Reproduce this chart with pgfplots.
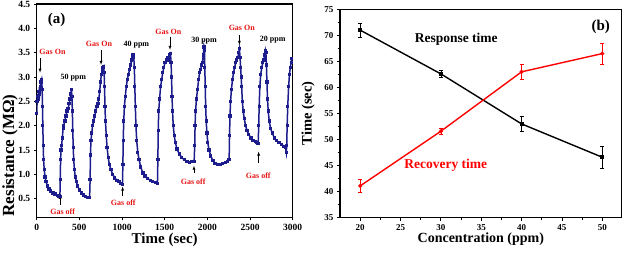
\documentclass[border=0pt]{standalone}
\usepackage{pgfplots}
\pgfplotsset{compat=1.18}
\usepackage{fontspec}
\setmainfont{Liberation Serif}
\definecolor{navy}{RGB}{28,28,140}
\definecolor{gred}{RGB}{230,20,20}
\begin{document}
\begin{tikzpicture}[font=\bfseries]
\pgfplotsset{
  every axis/.style={
    scale only axis, anchor=south west,
    axis line style={line width=1.1pt},
    tick align=outside, xtick pos=bottom, ytick pos=left,
    major tick length=3pt, minor tick length=2pt,
    every tick/.style={black, line width=0.9pt},
    tick label style={font=\bfseries\fontsize{9.5}{10}\selectfont},
    /pgf/number format/assume math mode=true,
  }
}
% ---------------- panel (a)
\begin{axis}[
  at={(36.7pt,36.7pt)}, width=256pt, height=213.3pt,
  xmin=0, xmax=3000, ymin=0.12, ymax=4.5,
  xtick={0,500,...,3000}, ytick={0.5,1,...,4.5},
  /pgf/number format/1000 sep={},
  yticklabel style={/pgf/number format/.cd, fixed, fixed zerofill, precision=1},
  xlabel={Time (sec)}, ylabel={Resistance (MΩ)},
  xlabel style={font=\bfseries\fontsize{15}{17}\selectfont, yshift=4pt},
  ylabel style={font=\bfseries\fontsize{17}{19}\selectfont, at={(axis description cs:-0.104,0.29)}, anchor=center},
]
\addplot[navy, line width=1.5pt, mark=square*, mark size=0.9pt] coordinates {
(0,2.25)(5,2.5)(12,2.6)(20,2.55)(28,2.7)(35,2.65)(42,2.8)(50,2.9)(58,2.95)(64,2.75)(68,2.4)(72,2.0)(76,1.6)(81,1.3)(88,1.1)(98,0.95)(110,0.85)(125,0.76)(145,0.7)(165,0.66)(190,0.62)(215,0.6)(240,0.57)(260,0.56)(272,0.55)
(276,0.9)(280,1.3)(285,1.5)(292,1.6)(300,1.75)(310,1.95)(318,2.0)(330,2.1)(342,2.2)(355,2.3)(368,2.35)(380,2.45)(392,2.55)(400,2.65)(407,2.75)(413,2.6)(418,2.3)(423,1.9)(428,1.55)(434,1.3)(442,1.1)(452,0.95)(465,0.85)(480,0.76)(500,0.68)(525,0.62)(550,0.58)(575,0.55)(600,0.53)(620,0.52)
(626,0.9)(630,1.4)(636,1.7)(645,1.85)(655,2.0)(668,2.1)(680,2.2)(692,2.3)(705,2.4)(718,2.45)(728,2.55)(738,2.7)(748,2.9)(758,3.05)(768,3.15)(778,3.2)(785,3.22)(790,3.1)(795,2.8)(800,2.4)(806,2.1)(815,1.8)(825,1.55)(838,1.35)(852,1.2)(870,1.1)(890,1.0)(915,0.93)(940,0.88)(965,0.85)(985,0.82)(1005,0.8)
(1010,1.2)(1014,1.7)(1020,2.1)(1028,2.4)(1038,2.6)(1050,2.8)(1062,2.95)(1075,3.05)(1088,3.15)(1100,3.25)(1112,3.35)(1122,3.42)(1130,3.45)(1138,3.4)(1144,3.2)(1150,2.8)(1156,2.4)(1163,2.0)(1172,1.7)(1185,1.45)(1200,1.3)(1220,1.15)(1245,1.03)(1270,0.97)(1300,0.92)(1330,0.88)(1360,0.85)(1390,0.83)(1415,0.82)
(1420,1.3)(1424,1.9)(1430,2.3)(1440,2.55)(1452,2.8)(1465,2.95)(1478,3.1)(1490,3.2)(1505,3.3)(1520,3.35)(1535,3.4)(1548,3.35)(1558,3.45)(1568,3.48)(1575,3.3)(1580,3.0)(1586,2.6)(1592,2.3)(1600,2.0)(1612,1.8)(1625,1.65)(1645,1.52)(1670,1.42)(1700,1.35)(1730,1.3)(1760,1.27)(1790,1.25)(1820,1.26)(1845,1.27)
(1852,1.6)(1856,2.0)(1862,2.3)(1872,2.55)(1885,2.75)(1898,2.95)(1910,3.1)(1922,3.15)(1932,3.25)(1942,3.3)(1952,3.45)(1960,3.62)(1966,3.55)(1970,3.2)(1975,2.8)(1980,2.4)(1986,2.1)(1995,1.85)(2005,1.65)(2020,1.5)(2040,1.38)(2065,1.28)(2090,1.23)(2120,1.21)(2150,1.2)(2180,1.22)(2210,1.24)(2240,1.27)(2255,1.3)
(2260,1.8)(2265,2.2)(2272,2.5)(2282,2.75)(2295,2.95)(2308,3.1)(2320,3.2)(2332,3.3)(2345,3.35)(2358,3.4)(2368,3.5)(2376,3.58)(2383,3.4)(2390,3.2)(2396,3.0)(2402,2.8)(2410,2.5)(2420,2.3)(2432,2.15)(2448,2.0)(2465,1.9)(2485,1.82)(2510,1.75)(2535,1.7)(2560,1.67)(2580,1.65)(2595,1.63)
(2602,2.0)(2607,2.4)(2615,2.8)(2625,3.05)(2638,3.2)(2650,3.3)(2662,3.35)(2672,3.45)(2680,3.55)(2686,3.5)(2692,3.25)(2698,2.9)(2705,2.55)(2713,2.3)(2725,2.1)(2740,1.95)(2760,1.85)(2785,1.75)(2810,1.7)(2840,1.65)(2870,1.62)(2895,1.58)(2915,1.56)(2925,1.45)
(2930,1.6)(2935,2.0)(2942,2.4)(2952,2.8)(2962,3.05)(2972,3.2)(2982,3.3)(2990,3.38)
};
\node[font=\bfseries\fontsize{15}{17}\selectfont] at (axis cs:234,4.17) {(a)};
\begin{scope}[every node/.style={font=\bfseries\fontsize{8}{9}\selectfont}]
\node[gred] at (axis cs:185,3.52) {Gas On};
\node[gred] at (axis cs:730,3.69) {Gas On};
\node[gred] at (axis cs:1543,3.93) {Gas On};
\node[gred] at (axis cs:2403,4.01) {Gas On};
\node at (axis cs:429,2.98) {50 ppm};
\node at (axis cs:1168,3.67) {40 ppm};
\node at (axis cs:1961,3.75) {30 ppm};
\node at (axis cs:2766,3.76) {20 ppm};
\node[gred] at (axis cs:304,0.24) {Gas off};
\node[gred] at (axis cs:1015,0.42) {Gas off};
\node[gred] at (axis cs:1834,0.855) {Gas off};
\node[gred] at (axis cs:2597,0.97) {Gas off};
\end{scope}
\begin{scope}[-latex, line width=0.4pt]
\draw (axis cs:39,3.39) -- (axis cs:39,3.09);
\draw (axis cs:754,3.56) -- (axis cs:754,3.25);
\draw (axis cs:1562,3.83) -- (axis cs:1562,3.56);
\draw (axis cs:2375,3.86) -- (axis cs:2375,3.66);
\draw (axis cs:273,0.38) -- (axis cs:273,0.58);
\draw (axis cs:1007,0.55) -- (axis cs:1007,0.75);
\draw (axis cs:1843,1.03) -- (axis cs:1843,1.18);
\draw (axis cs:2601,1.23) -- (axis cs:2601,1.47);
\end{scope}
\end{axis}
% ---------------- panel (b)
\begin{axis}[
  at={(340pt,36.3pt)}, width=281.7pt, height=208.4pt,
  xmin=17.5, xmax=52.4, ymin=35, ymax=75,
  xtick={20,25,...,50}, ytick={35,40,...,75},
  minor tick num=1,
  tick label style={font=\bfseries\fontsize{9}{10}\selectfont},
  xlabel={Concentration (ppm)}, ylabel={Time (sec)},
  xlabel style={font=\bfseries\fontsize{14}{16}\selectfont, yshift=4pt},
  ylabel style={font=\bfseries\fontsize{14.5}{16}\selectfont, yshift=3pt},
]
\addplot[black, line width=1.4pt, mark=square*, mark size=1.2pt,
  error bars/.cd, y dir=both, y explicit, error bar style={line width=0.6pt}, error mark options={rotate=90, mark size=2pt, line width=0.6pt}]
  coordinates {(20,71.0) +- (0,1.4) (30,62.6) +- (0,0.7) (40,53.0) +- (0,1.4) (50,46.6) +- (0,2.1)};
\addplot[red, line width=1.4pt, mark=*, mark size=1.2pt,
  error bars/.cd, y dir=both, y explicit, error bar style={line width=0.6pt}, error mark options={rotate=90, mark size=2pt, line width=0.6pt}]
  coordinates {(20,41.1) +- (0,1.2) (30,51.6) +- (0,0.6) (40,63.0) +- (0,1.4) (50,66.5) +- (0,2.0)};
\node[font=\bfseries\fontsize{13.5}{15}\selectfont] at (axis cs:31.9,69.3) {Response time};
\node[red, font=\bfseries\fontsize{13.5}{15}\selectfont] at (axis cs:30.6,45.05) {Recovery time};
\node[font=\bfseries\fontsize{15}{17}\selectfont] at (axis cs:49.8,71.7) {(b)};
\end{axis}
\pgfresetboundingbox
\useasboundingbox (0,0) rectangle (625pt,254pt);
\end{tikzpicture}
\end{document}
